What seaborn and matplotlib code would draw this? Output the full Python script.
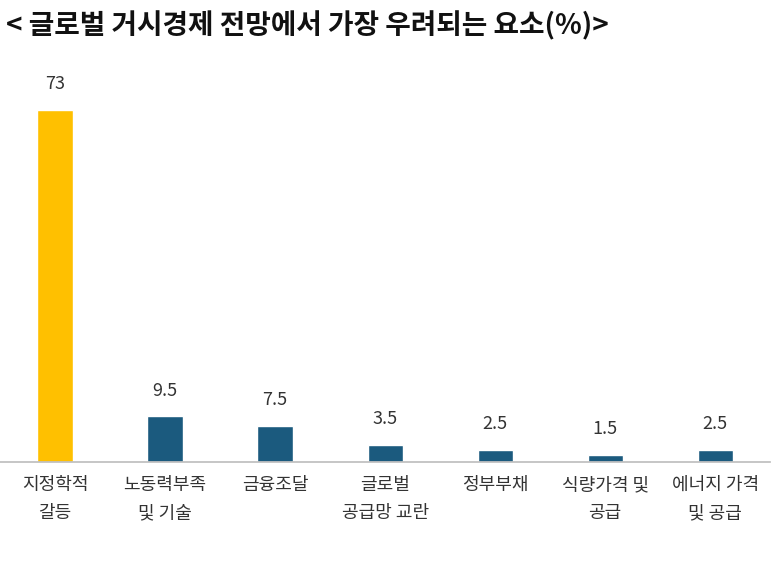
import matplotlib
matplotlib.use("Agg")
import matplotlib.pyplot as plt
import seaborn as sns
import pandas as pd

categories = ["지정학적\n갈등", "노동력부족\n및 기술", "금융조달", "글로벌\n공급망 교란", "정부부채", "식량가격 및\n공급", "에너지 가격\n및 공급"]
values = [73, 9.5, 7.5, 3.5, 2.5, 1.5, 2.5]
labels = ["73", "9.5", "7.5", "3.5", "2.5", "1.5", "2.5"]
colors = ["#FFC000"] + ["#1B5A7E"] * 6

sns.set_theme(style="white")
plt.rcParams['font.family'] = ['Noto Sans CJK KR', 'DejaVu Sans']

fig = plt.figure(figsize=(7.82, 5.61), dpi=100)
ax = fig.add_axes([0.0, 0.176, 0.985, 0.688])
df = pd.DataFrame({"cat": categories, "val": values})
sns.barplot(data=df, x="cat", y="val", hue="cat", palette=colors, legend=False,
            width=0.32, saturation=1, ax=ax)
ax.set_ylim(0, 80)
ax.set_xlim(-0.5, 6.5)
for i, (v, l) in enumerate(zip(values, labels)):
    ax.text(i, v + 3.5, l, ha="center", va="bottom", fontsize=13, color="#333333")
ax.set_xlabel("")
ax.set_ylabel("")
ax.set_yticks([])
ax.tick_params(axis="x", length=0, labelsize=13, colors="#333333", pad=10)
for t in ax.get_xticklabels():
    t.set_linespacing(1.7)
for s in ["top", "right", "left"]:
    ax.spines[s].set_visible(False)
ax.spines["bottom"].set_color("#BFBFBF")
fig.text(0.008, 0.955, "< 글로벌 거시경제 전망에서 가장 우려되는 요소(%)>", fontsize=20,
         fontweight="bold", ha="left", va="center", color="#111111")
fig.savefig("out.png", dpi=100)
